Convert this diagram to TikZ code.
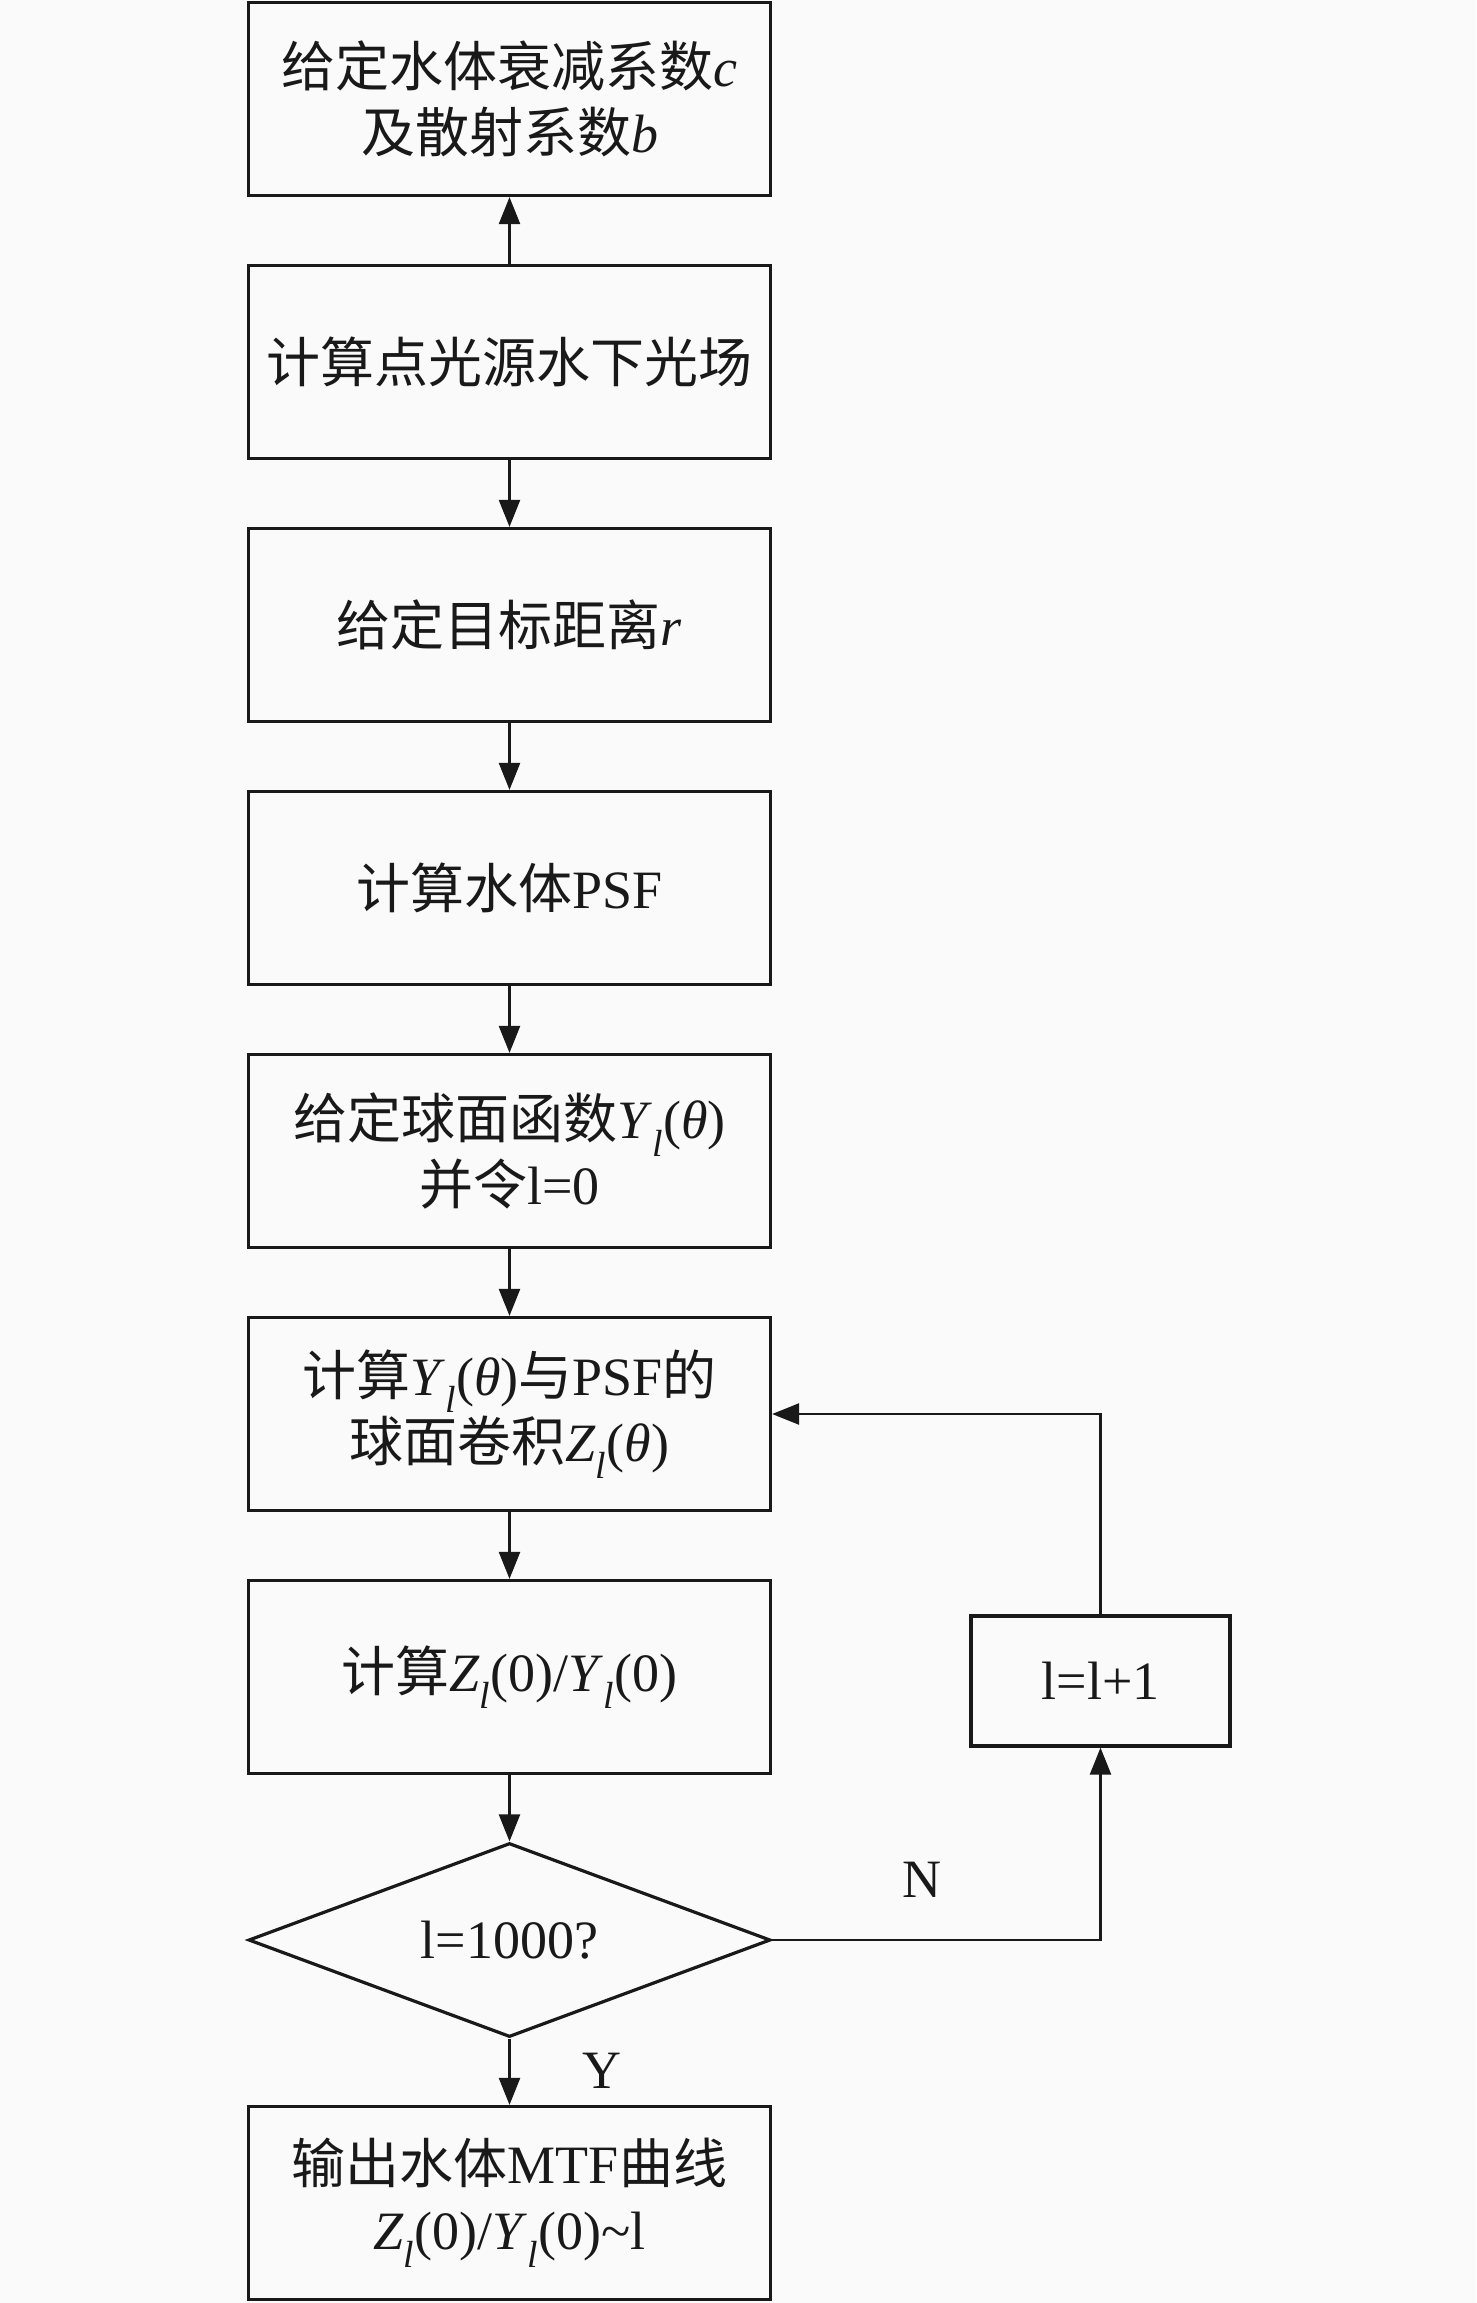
\documentclass[tikz,border=0pt]{standalone}
\usepackage{fontspec}
\setmainfont{Liberation Serif}
\newfontfamily\cjk{Noto Sans CJK SC}
\usetikzlibrary{arrows.meta,shapes.geometric}
\definecolor{bgc}{RGB}{250,250,250}
\definecolor{ink}{RGB}{25,25,25}
\newcommand\Yl{\textit{Y}\textsubscript{\textit{l}}}
\newcommand\Zl{\textit{Z}\textsubscript{\textit{l}}}
\begin{document}
\begin{tikzpicture}[x=1pt,y=-1pt,
  txt/.style={font=\fontsize{54}{66}\selectfont, text=ink},
  box/.style={txt, draw=ink, line width=3.2pt, minimum width=522pt, minimum height=193pt, align=center, inner sep=0pt},
  dia/.style={txt, draw=ink, line width=3.2pt, shape=diamond, shape aspect=2.66, minimum width=522pt, minimum height=194pt, inner sep=0pt},
  arr/.style={draw=ink, line width=2.4pt, -{Triangle[length=27pt,width=21pt]}}]
\fill[bgc] (0,0) rectangle (1476,2303);
\useasboundingbox (0,0) rectangle (1476,2303);
\node[box] (b1) at (509.5,99) {{\cjk 给定水体衰减系数}\textit{c}\\{\cjk 及散射系数}\textit{b}};
\node[box] (b2) at (509.5,362) {{\cjk 计算点光源水下光场}};
\node[box] (b3) at (509.5,625) {{\cjk 给定目标距离}\textit{r}};
\node[box] (b4) at (509.5,888) {{\cjk 计算水体}PSF};
\node[box] (b5) at (509.5,1151) {{\cjk 给定球面函数}\Yl(\textit{θ})\\{\cjk 并令}l=0};
\node[box] (b6) at (509.5,1414) {{\cjk 计算}\Yl(\textit{θ}){\cjk 与}PSF{\cjk 的}\\{\cjk 球面卷积}\Zl(\textit{θ})};
\node[box] (b7) at (509.5,1677) {{\cjk 计算}\Zl(0)/\Yl(0)};
\node[dia] (d) at (509.5,1940) {l=1000?};
\node[box] (b8) at (509.5,2203) {{\cjk 输出水体}MTF{\cjk 曲线}\\\Zl(0)/\Yl(0)\textasciitilde l};
\node[box, minimum width=259pt, minimum height=130pt] (inc) at (1100.5,1681) {l=l+1};
\node[txt] (nl) at (922,1880) {N};
\node[txt] (yl) at (602,2071) {Y};
\draw[arr] (b2) -- (b1);
\draw[arr] (b2) -- (b3);
\draw[arr] (b3) -- (b4);
\draw[arr] (b4) -- (b5);
\draw[arr] (b5) -- (b6);
\draw[arr] (b6) -- (b7);
\draw[arr] (b7) -- (d);
\draw[arr] (d) -- (b8);
\draw[arr] (d.east) -| (inc.south);
\draw[arr] (inc.north) |- (b6.east);
\end{tikzpicture}
\end{document}
